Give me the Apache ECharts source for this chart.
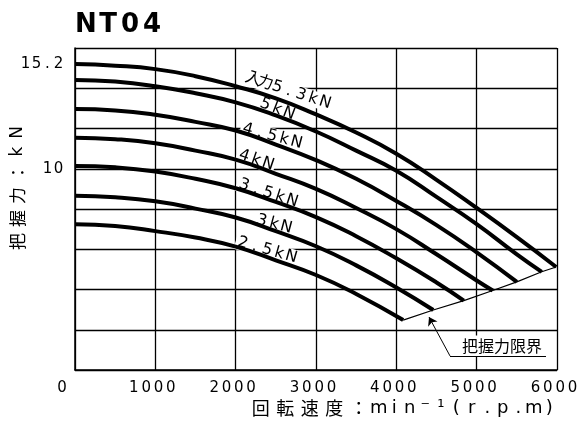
<!DOCTYPE html>
<html>
<head>
<meta charset="utf-8">
<script src="https://cdn.jsdelivr.net/npm/echarts@6/dist/echarts.min.js"></script>
<style>
html, body { margin: 0; padding: 0; background: #fff; }
#main { width: 585px; height: 425px; }
</style>
</head>
<body>
<div id="main"></div>
<script>
// gripping force (kN) against speed (min-1), one pair of arrays per input force
var spd53 = [0, 500, 1000, 1500, 2000, 2500, 3000, 3500, 4000, 4500, 5000, 5500, 5990];
var frc53 = [15.2, 15.12, 14.95, 14.6, 14.1, 13.5, 12.7, 11.8, 10.75, 9.45, 8.05, 6.6, 5.12];
var spd50 = [0, 500, 1000, 1500, 2000, 2500, 3000, 3500, 4000, 4500, 5000, 5500, 5810];
var frc50 = [14.41, 14.33, 14.1, 13.75, 13.3, 12.65, 11.85, 10.9, 9.9, 8.6, 7.25, 5.75, 4.88];
var spd45 = [0, 500, 1000, 1500, 2000, 2500, 3000, 3500, 4000, 4500, 5000, 5500];
var frc45 = [12.97, 12.9, 12.68, 12.33, 11.9, 11.2, 10.43, 9.5, 8.4, 7.2, 5.85, 4.38];
var spd40 = [0, 500, 1000, 1500, 2000, 2500, 3000, 3500, 4000, 4500, 5000, 5200];
var frc40 = [11.54, 11.47, 11.27, 10.9, 10.45, 9.75, 9.0, 8.05, 7.0, 5.75, 4.45, 3.95];
var spd35 = [0, 500, 1000, 1500, 2000, 2500, 3000, 3500, 4000, 4500, 4840];
var frc35 = [10.14, 10.07, 9.86, 9.5, 9.03, 8.35, 7.6, 6.65, 5.55, 4.35, 3.45];
var spd30 = [0, 500, 1000, 1500, 2000, 2500, 3000, 3500, 4000, 4460];
var frc30 = [8.66, 8.58, 8.38, 8.02, 7.58, 6.9, 6.15, 5.2, 4.1, 2.98];
var spd25 = [0, 500, 1000, 1500, 2000, 2500, 3000, 3500, 4085];
var frc25 = [7.24, 7.15, 6.9, 6.58, 6.13, 5.45, 4.72, 3.78, 2.48];

var curveNames = ['入力5.3kN', '5kN', '4.5kN', '4kN', '3.5kN', '3kN', '2.5kN'];
var yLabelValues = [10, 15.2];

var curveSpd = [spd53, spd50, spd45, spd40, spd35, spd30, spd25];
var curveFrc = [frc53, frc50, frc45, frc40, frc35, frc30, frc25];

// one character per rich segment so the wide CAD-like spacing can be imitated
function spaced(str, style) {
	return str.split('').map(function(ch) {
		return '{' + style + '|' + ch + '}';
	}).join('');
}

function pairs(xs, ys) {
	return xs.map(function(x, i) {
		return [x, ys[i]];
	});
}

var series = curveSpd.map(function(xs, i) {
	return {
		name: curveNames[i],
		type: 'line',
		smooth: true,
		symbol: 'none',
		z: 3,
		lineStyle: { color: '#000', width: 4 },
		data: pairs(xs, curveFrc[i])
	};
});

// limit line runs through the end of every curve
var limitData = curveSpd.map(function(xs, i) {
	return [xs[xs.length - 1], curveFrc[i][curveFrc[i].length - 1]];
}).reverse();

series.push({
	name: '把握力限界',
	type: 'line',
	symbol: 'none',
	z: 3,
	lineStyle: { color: '#000', width: 1.2 },
	data: limitData,
	markLine: {
		silent: true,
		animation: false,
		symbol: ['none', 'arrow'],
		symbolSize: 8,
		lineStyle: { color: '#000', width: 1, type: 'solid' },
		label: { show: false },
		data: [
			[{ coord: [4668, 0.7] }, { coord: [4407, 2.63] }],
			[{ coord: [4668, 0.7], symbol: 'none' }, { coord: [5863, 0.7], symbol: 'none' }]
		]
	}
});

var digitRich = {
	d: { width: 12.3, align: 'center', fontSize: 15, fontFamily: 'DejaVu Sans', color: '#000' },
	g: { width: 20 }
};

var option = {
	animation: false,
	backgroundColor: '#fff',
	grid: { left: 75, right: 28, top: 48, bottom: 55 },
	xAxis: {
		type: 'value',
		min: 0,
		max: 6000,
		interval: 1000,
		axisLine: { lineStyle: { color: '#000', width: 1.5 } },
		axisTick: { show: false },
		splitLine: { show: true, lineStyle: { color: '#000', width: 1.3 } },
		axisLabel: {
			margin: 11,
			padding: [0, 6, 0, 0],
			formatter: function(v) {
				// the zero sits left of the axis in the original
				return v === 0 ? '{d|0}{g|}' : spaced(String(v), 'd');
			},
			rich: digitRich
		}
	},
	yAxis: {
		type: 'value',
		min: 0,
		max: 16,
		interval: 2,
		axisLine: { show: true, lineStyle: { color: '#000', width: 1.5 } },
		axisTick: { show: false },
		splitLine: { show: true, lineStyle: { color: '#000', width: 1.3 } },
		axisLabel: {
			margin: 11,
			customValues: yLabelValues,
			formatter: function(v) { return spaced(String(v), 'e'); },
			rich: {
				e: { width: 11, align: 'center', fontSize: 15, fontFamily: 'DejaVu Sans', color: '#000' }
			}
		}
	},
	series: series
};

var chart = echarts.init(document.getElementById('main'));
chart.setOption(option);

// curve labels: text, centre x, centre y, slope in degrees
var labelPlaces = [
	['入力5.3kN', 289, 91, 18],
	['5kN', 277, 109, 21],
	['4.5kN', 272, 136, 15],
	['4kN', 256, 160, 19],
	['3.5kN', 268, 193, 18],
	['3kN', 274, 224, 15],
	['2.5kN', 267, 250, 16]
];

var graphics = labelPlaces.map(function(p) {
	return {
		type: 'text',
		x: p[1],
		y: p[2],
		rotation: -p[3] * Math.PI / 180,
		z: 1,
		style: {
			text: spaced(p[0], 'c'),
			align: 'center',
			verticalAlign: 'middle',
			backgroundColor: '#fff',
			padding: [0, 1],
			rich: {
				c: { width: 12.6, align: 'center', fontSize: 16, fontFamily: 'DejaVu Sans, Noto Sans CJK JP', fill: '#000' }
			}
		}
	};
});

graphics.push({
	type: 'text',
	x: 75,
	y: 25,
	style: {
		text: spaced('NT04', 't'),
		align: 'left',
		verticalAlign: 'middle',
		rich: {
			t: { width: 22, align: 'center', fontSize: 26, fontWeight: 'bold', fontFamily: 'DejaVu Sans', fill: '#000' }
		}
	}
});

graphics.push({
	type: 'text',
	x: 18,
	y: 188,
	rotation: Math.PI / 2,
	style: {
		text: spaced('把握力：', 'k') + spaced('kN', 'l'),
		align: 'center',
		verticalAlign: 'middle',
		rich: {
			k: { width: 23, align: 'center', fontSize: 17, fontFamily: 'Noto Sans CJK JP', fill: '#000' },
			l: { width: 19, align: 'center', fontSize: 17, fontFamily: 'DejaVu Sans', fill: '#000' }
		}
	}
});

graphics.push({
	type: 'text',
	x: 557,
	y: 408,
	style: {
		text: spaced('回転速度：', 'k') + spaced('min⁻¹(r.p.m)', 'l'),
		align: 'right',
		verticalAlign: 'middle',
		rich: {
			k: { width: 24.5, align: 'center', fontSize: 18, fontFamily: 'Noto Sans CJK JP', fill: '#000' },
			l: { width: 15.5, align: 'center', fontSize: 18, fontFamily: 'DejaVu Sans', fill: '#000' }
		}
	}
});

graphics.push({
	type: 'text',
	x: 502,
	y: 346,
	z: 1,
	style: {
		text: '把握力限界',
		align: 'center',
		verticalAlign: 'middle',
		fontSize: 16,
		fontFamily: 'Noto Sans CJK JP',
		fill: '#000',
		backgroundColor: '#fff',
		padding: [3, 4, 2, 4]
	}
});

chart.setOption({ graphic: graphics });
</script>
</body>
</html>
